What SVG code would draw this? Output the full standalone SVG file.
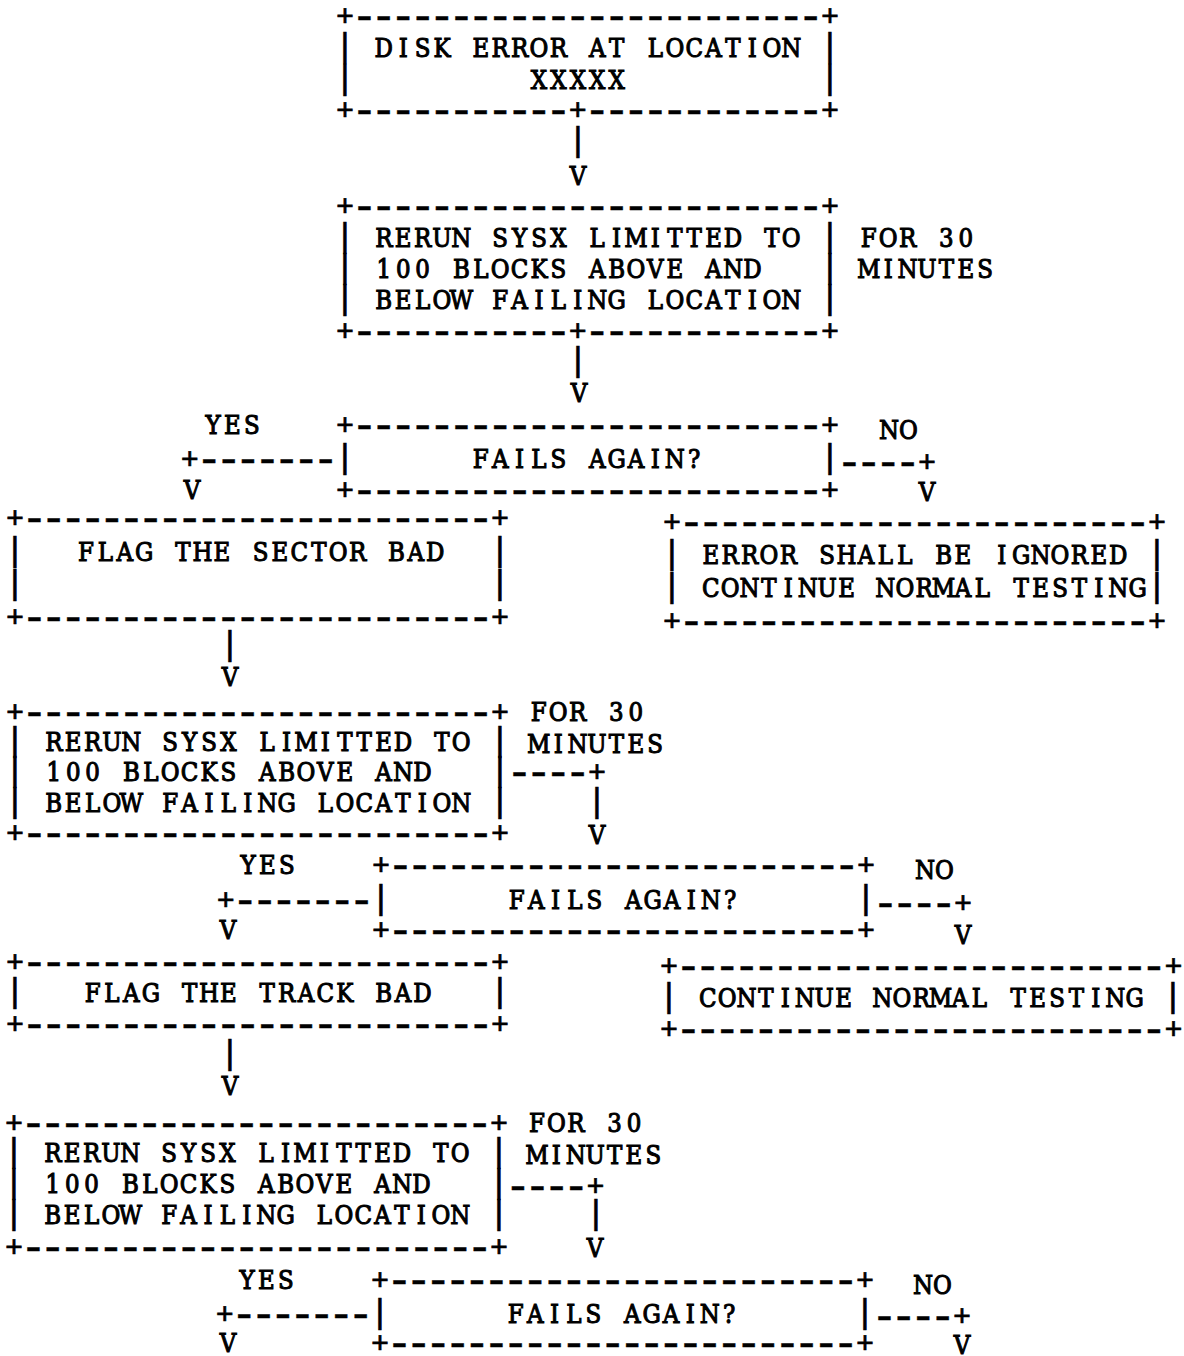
<svg xmlns="http://www.w3.org/2000/svg" width="1184" height="1356" viewBox="0 0 1184 1356" xml:space="preserve">
<style>
text { fill: #000; stroke: #000; white-space: pre; }
.b { font-family: "Liberation Mono", "DejaVu Sans Mono", monospace; font-size: 30px; text-anchor: middle; stroke-width: 0.7px; }
.d { font-size: 44px; stroke-width: 0.4px; }
.p { font-family: "DejaVu Sans Mono", "Liberation Mono", monospace; font-size: 32px; text-anchor: middle; stroke-width: 0.7px; }
.w { font-family: "DejaVu Serif", "Liberation Serif", serif; font-size: 25.5px; text-anchor: middle; stroke-width: 1.1px; }
</style>
<rect width="1184" height="1356" fill="#fff"/>
<g id="n1">
<text class="b" transform="translate(345 26)" x="0 19.4 38.8 58.2 77.6 97 116.4 135.8 155.2 174.6 194 213.4 232.8 252.2 271.6 291 310.4 329.8 349.2 368.6 388 407.4 426.8 446.2 465.6 485 504.4">+<tspan class="d" dy="4">------------------------</tspan><tspan dy="-4">+</tspan></text>
<text class="p" x="345" y="56.4">|</text><text class="p" x="830" y="56.4">|</text>
<text class="p" x="345" y="88.4">|</text><text class="p" x="830" y="88.4">|</text>
<text class="w" transform="translate(383.8 57.2) scale(0.9 1)" x="0 21.556 43.111 64.667 86.222 107.778 129.333 150.889 172.444 194 215.556 237.111 258.667 280.222 301.778 323.333 344.889 366.444 388 409.556 431.111 452.667 474.222 495.778">DISK ERROR AT LOCATION</text>
<text class="w" transform="translate(539 89.2) scale(0.9 1)" x="0 21.556 43.111 64.667 86.222">XXXXX</text>
<text class="b" transform="translate(345 120)" x="0 19.4 38.8 58.2 77.6 97 116.4 135.8 155.2 174.6 194 213.4 232.8 252.2 271.6 291 310.4 329.8 349.2 368.6 388 407.4 426.8 446.2 465.6 485 504.4">+<tspan class="d" dy="4">-----------</tspan><tspan dy="-4">+</tspan><tspan class="d" dy="4">------------</tspan><tspan dy="-4">+</tspan></text>
</g>
<g id="n2">
<text class="b" transform="translate(345 216)" x="0 19.4 38.8 58.2 77.6 97 116.4 135.8 155.2 174.6 194 213.4 232.8 252.2 271.6 291 310.4 329.8 349.2 368.6 388 407.4 426.8 446.2 465.6 485 504.4">+<tspan class="d" dy="4">------------------------</tspan><tspan dy="-4">+</tspan></text>
<text class="p" x="345" y="246.4">|</text><text class="p" x="830" y="246.4">|</text>
<text class="p" x="345" y="277.4">|</text><text class="p" x="830" y="277.4">|</text>
<text class="p" x="345" y="308.4">|</text><text class="p" x="830" y="308.4">|</text>
<text class="w" transform="translate(383.8 247.2) scale(0.9 1)" x="0 21.556 43.111 64.667 86.222 107.778 129.333 150.889 172.444 194 215.556 237.111 258.667 280.222 301.778 323.333 344.889 366.444 388 409.556 431.111 452.667 474.222 495.778">RERUN SYSX LIMITTED TO</text>
<text class="w" transform="translate(383.8 278.2) scale(0.9 1)" x="0 21.556 43.111 64.667 86.222 107.778 129.333 150.889 172.444 194 215.556 237.111 258.667 280.222 301.778 323.333 344.889 366.444 388 409.556 431.111 452.667 474.222 495.778">100 BLOCKS ABOVE AND</text>
<text class="w" transform="translate(383.8 309.2) scale(0.9 1)" x="0 21.556 43.111 64.667 86.222 107.778 129.333 150.889 172.444 194 215.556 237.111 258.667 280.222 301.778 323.333 344.889 366.444 388 409.556 431.111 452.667 474.222 495.778">BELOW FAILING LOCATION</text>
<text class="b" transform="translate(345 341)" x="0 19.4 38.8 58.2 77.6 97 116.4 135.8 155.2 174.6 194 213.4 232.8 252.2 271.6 291 310.4 329.8 349.2 368.6 388 407.4 426.8 446.2 465.6 485 504.4">+<tspan class="d" dy="4">-----------</tspan><tspan dy="-4">+</tspan><tspan class="d" dy="4">------------</tspan><tspan dy="-4">+</tspan></text>
<text class="w" transform="translate(868.8 247.2) scale(0.9 1)" x="0 21.556 43.111 64.667 86.222 107.778 129.333">FOR 30</text>
<text class="w" transform="translate(868.8 278.2) scale(0.9 1)" x="0 21.556 43.111 64.667 86.222 107.778 129.333">MINUTES</text>
</g>
<g id="n3">
<text class="b" transform="translate(345 435)" x="0 19.4 38.8 58.2 77.6 97 116.4 135.8 155.2 174.6 194 213.4 232.8 252.2 271.6 291 310.4 329.8 349.2 368.6 388 407.4 426.8 446.2 465.6 485 504.4">+<tspan class="d" dy="4">------------------------</tspan><tspan dy="-4">+</tspan></text>
<text class="p" x="345" y="467.4">|</text><text class="p" x="830" y="467.4">|</text>
<text class="w" transform="translate(480.8 468.2) scale(0.9 1)" x="0 21.556 43.111 64.667 86.222 107.778 129.333 150.889 172.444 194 215.556 237.111">FAILS AGAIN?</text>
<text class="b" transform="translate(345 500)" x="0 19.4 38.8 58.2 77.6 97 116.4 135.8 155.2 174.6 194 213.4 232.8 252.2 271.6 291 310.4 329.8 349.2 368.6 388 407.4 426.8 446.2 465.6 485 504.4">+<tspan class="d" dy="4">------------------------</tspan><tspan dy="-4">+</tspan></text>
</g>
<g id="n4">
<text class="b" transform="translate(15 528)" x="0 19.4 38.8 58.2 77.6 97 116.4 135.8 155.2 174.6 194 213.4 232.8 252.2 271.6 291 310.4 329.8 349.2 368.6 388 407.4 426.8 446.2 465.6 485 504.4">+<tspan class="d" dy="4">------------------------</tspan><tspan dy="-4">+</tspan></text>
<text class="p" x="15" y="560.4">|</text><text class="p" x="500" y="560.4">|</text>
<text class="p" x="15" y="593.4">|</text><text class="p" x="500" y="593.4">|</text>
<text class="w" transform="translate(86 561.2) scale(0.9 1)" x="0 21.556 43.111 64.667 86.222 107.778 129.333 150.889 172.444 194 215.556 237.111 258.667 280.222 301.778 323.333 344.889 366.444 388">FLAG THE SECTOR BAD</text>
<text class="b" transform="translate(15 627)" x="0 19.4 38.8 58.2 77.6 97 116.4 135.8 155.2 174.6 194 213.4 232.8 252.2 271.6 291 310.4 329.8 349.2 368.6 388 407.4 426.8 446.2 465.6 485 504.4">+<tspan class="d" dy="4">------------------------</tspan><tspan dy="-4">+</tspan></text>
</g>
<g id="n5">
<text class="b" transform="translate(672 532)" x="0 19.4 38.8 58.2 77.6 97 116.4 135.8 155.2 174.6 194 213.4 232.8 252.2 271.6 291 310.4 329.8 349.2 368.6 388 407.4 426.8 446.2 465.6 485 504.4">+<tspan class="d" dy="4">------------------------</tspan><tspan dy="-4">+</tspan></text>
<text class="p" x="672" y="563.4">|</text><text class="p" x="1157" y="563.4">|</text>
<text class="p" x="672" y="596.4">|</text><text class="p" x="1157" y="596.4">|</text>
<text class="w" transform="translate(710.8 564.2) scale(0.9 1)" x="0 21.556 43.111 64.667 86.222 107.778 129.333 150.889 172.444 194 215.556 237.111 258.667 280.222 301.778 323.333 344.889 366.444 388 409.556 431.111 452.667 474.222 495.778">ERROR SHALL BE IGNORED</text>
<text class="w" transform="translate(710.8 597.2) scale(0.9 1)" x="0 21.556 43.111 64.667 86.222 107.778 129.333 150.889 172.444 194 215.556 237.111 258.667 280.222 301.778 323.333 344.889 366.444 388 409.556 431.111 452.667 474.222 495.778">CONTINUE NORMAL TESTING</text>
<text class="b" transform="translate(672 631)" x="0 19.4 38.8 58.2 77.6 97 116.4 135.8 155.2 174.6 194 213.4 232.8 252.2 271.6 291 310.4 329.8 349.2 368.6 388 407.4 426.8 446.2 465.6 485 504.4">+<tspan class="d" dy="4">------------------------</tspan><tspan dy="-4">+</tspan></text>
</g>
<g id="n6">
<text class="b" transform="translate(15 722)" x="0 19.4 38.8 58.2 77.6 97 116.4 135.8 155.2 174.6 194 213.4 232.8 252.2 271.6 291 310.4 329.8 349.2 368.6 388 407.4 426.8 446.2 465.6 485 504.4">+<tspan class="d" dy="4">------------------------</tspan><tspan dy="-4">+</tspan></text>
<text class="p" x="15" y="750.4">|</text><text class="p" x="500" y="750.4">|</text>
<text class="p" x="15" y="780.4">|</text><text class="p" x="500" y="780.4">|</text>
<text class="p" x="15" y="811.4">|</text><text class="p" x="500" y="811.4">|</text>
<text class="w" transform="translate(53.8 751.2) scale(0.9 1)" x="0 21.556 43.111 64.667 86.222 107.778 129.333 150.889 172.444 194 215.556 237.111 258.667 280.222 301.778 323.333 344.889 366.444 388 409.556 431.111 452.667 474.222 495.778">RERUN SYSX LIMITTED TO</text>
<text class="w" transform="translate(53.8 781.2) scale(0.9 1)" x="0 21.556 43.111 64.667 86.222 107.778 129.333 150.889 172.444 194 215.556 237.111 258.667 280.222 301.778 323.333 344.889 366.444 388 409.556 431.111 452.667 474.222 495.778">100 BLOCKS ABOVE AND</text>
<text class="w" transform="translate(53.8 812.2) scale(0.9 1)" x="0 21.556 43.111 64.667 86.222 107.778 129.333 150.889 172.444 194 215.556 237.111 258.667 280.222 301.778 323.333 344.889 366.444 388 409.556 431.111 452.667 474.222 495.778">BELOW FAILING LOCATION</text>
<text class="b" transform="translate(15 843)" x="0 19.4 38.8 58.2 77.6 97 116.4 135.8 155.2 174.6 194 213.4 232.8 252.2 271.6 291 310.4 329.8 349.2 368.6 388 407.4 426.8 446.2 465.6 485 504.4">+<tspan class="d" dy="4">------------------------</tspan><tspan dy="-4">+</tspan></text>
<text class="w" transform="translate(538.8 721.2) scale(0.9 1)" x="0 21.556 43.111 64.667 86.222 107.778 129.333">FOR 30</text>
<text class="w" transform="translate(538.8 753.2) scale(0.9 1)" x="0 21.556 43.111 64.667 86.222 107.778 129.333">MINUTES</text>
</g>
<g id="n7">
<text class="b" transform="translate(381 875)" x="0 19.4 38.8 58.2 77.6 97 116.4 135.8 155.2 174.6 194 213.4 232.8 252.2 271.6 291 310.4 329.8 349.2 368.6 388 407.4 426.8 446.2 465.6 485 504.4">+<tspan class="d" dy="4">------------------------</tspan><tspan dy="-4">+</tspan></text>
<text class="p" x="381" y="908.4">|</text><text class="p" x="866" y="908.4">|</text>
<text class="w" transform="translate(516.8 909.2) scale(0.9 1)" x="0 21.556 43.111 64.667 86.222 107.778 129.333 150.889 172.444 194 215.556 237.111">FAILS AGAIN?</text>
<text class="b" transform="translate(381 940)" x="0 19.4 38.8 58.2 77.6 97 116.4 135.8 155.2 174.6 194 213.4 232.8 252.2 271.6 291 310.4 329.8 349.2 368.6 388 407.4 426.8 446.2 465.6 485 504.4">+<tspan class="d" dy="4">------------------------</tspan><tspan dy="-4">+</tspan></text>
</g>
<g id="n8">
<text class="b" transform="translate(15 972)" x="0 19.4 38.8 58.2 77.6 97 116.4 135.8 155.2 174.6 194 213.4 232.8 252.2 271.6 291 310.4 329.8 349.2 368.6 388 407.4 426.8 446.2 465.6 485 504.4">+<tspan class="d" dy="4">------------------------</tspan><tspan dy="-4">+</tspan></text>
<text class="p" x="15" y="1001.4">|</text><text class="p" x="500" y="1001.4">|</text>
<text class="w" transform="translate(92.6 1002.2) scale(0.9 1)" x="0 21.556 43.111 64.667 86.222 107.778 129.333 150.889 172.444 194 215.556 237.111 258.667 280.222 301.778 323.333 344.889 366.444">FLAG THE TRACK BAD</text>
<text class="b" transform="translate(15 1034)" x="0 19.4 38.8 58.2 77.6 97 116.4 135.8 155.2 174.6 194 213.4 232.8 252.2 271.6 291 310.4 329.8 349.2 368.6 388 407.4 426.8 446.2 465.6 485 504.4">+<tspan class="d" dy="4">------------------------</tspan><tspan dy="-4">+</tspan></text>
</g>
<g id="n9">
<text class="b" transform="translate(669 976)" x="0 19.4 38.8 58.2 77.6 97 116.4 135.8 155.2 174.6 194 213.4 232.8 252.2 271.6 291 310.4 329.8 349.2 368.6 388 407.4 426.8 446.2 465.6 485 504.4">+<tspan class="d" dy="4">-------------------------</tspan><tspan dy="-4">+</tspan></text>
<text class="p" x="669" y="1006.4">|</text><text class="p" x="1173" y="1006.4">|</text>
<text class="w" transform="translate(707.8 1007.2) scale(0.9 1)" x="0 21.556 43.111 64.667 86.222 107.778 129.333 150.889 172.444 194 215.556 237.111 258.667 280.222 301.778 323.333 344.889 366.444 388 409.556 431.111 452.667 474.222 495.778">CONTINUE NORMAL TESTING</text>
<text class="b" transform="translate(669 1039)" x="0 19.4 38.8 58.2 77.6 97 116.4 135.8 155.2 174.6 194 213.4 232.8 252.2 271.6 291 310.4 329.8 349.2 368.6 388 407.4 426.8 446.2 465.6 485 504.4">+<tspan class="d" dy="4">-------------------------</tspan><tspan dy="-4">+</tspan></text>
</g>
<g id="n10">
<text class="b" transform="translate(14 1133)" x="0 19.4 38.8 58.2 77.6 97 116.4 135.8 155.2 174.6 194 213.4 232.8 252.2 271.6 291 310.4 329.8 349.2 368.6 388 407.4 426.8 446.2 465.6 485 504.4">+<tspan class="d" dy="4">------------------------</tspan><tspan dy="-4">+</tspan></text>
<text class="p" x="14" y="1161.4">|</text><text class="p" x="499" y="1161.4">|</text>
<text class="p" x="14" y="1192.4">|</text><text class="p" x="499" y="1192.4">|</text>
<text class="p" x="14" y="1223.4">|</text><text class="p" x="499" y="1223.4">|</text>
<text class="w" transform="translate(52.8 1162.2) scale(0.9 1)" x="0 21.556 43.111 64.667 86.222 107.778 129.333 150.889 172.444 194 215.556 237.111 258.667 280.222 301.778 323.333 344.889 366.444 388 409.556 431.111 452.667 474.222 495.778">RERUN SYSX LIMITTED TO</text>
<text class="w" transform="translate(52.8 1193.2) scale(0.9 1)" x="0 21.556 43.111 64.667 86.222 107.778 129.333 150.889 172.444 194 215.556 237.111 258.667 280.222 301.778 323.333 344.889 366.444 388 409.556 431.111 452.667 474.222 495.778">100 BLOCKS ABOVE AND</text>
<text class="w" transform="translate(52.8 1224.2) scale(0.9 1)" x="0 21.556 43.111 64.667 86.222 107.778 129.333 150.889 172.444 194 215.556 237.111 258.667 280.222 301.778 323.333 344.889 366.444 388 409.556 431.111 452.667 474.222 495.778">BELOW FAILING LOCATION</text>
<text class="b" transform="translate(14 1257)" x="0 19.4 38.8 58.2 77.6 97 116.4 135.8 155.2 174.6 194 213.4 232.8 252.2 271.6 291 310.4 329.8 349.2 368.6 388 407.4 426.8 446.2 465.6 485 504.4">+<tspan class="d" dy="4">------------------------</tspan><tspan dy="-4">+</tspan></text>
<text class="w" transform="translate(537 1132.2) scale(0.9 1)" x="0 21.556 43.111 64.667 86.222 107.778 129.333">FOR 30</text>
<text class="w" transform="translate(537 1164.2) scale(0.9 1)" x="0 21.556 43.111 64.667 86.222 107.778 129.333">MINUTES</text>
</g>
<g id="n11">
<text class="b" transform="translate(380 1290)" x="0 19.4 38.8 58.2 77.6 97 116.4 135.8 155.2 174.6 194 213.4 232.8 252.2 271.6 291 310.4 329.8 349.2 368.6 388 407.4 426.8 446.2 465.6 485 504.4">+<tspan class="d" dy="4">------------------------</tspan><tspan dy="-4">+</tspan></text>
<text class="p" x="380" y="1322.4">|</text><text class="p" x="865" y="1322.4">|</text>
<text class="w" transform="translate(515.8 1323.2) scale(0.9 1)" x="0 21.556 43.111 64.667 86.222 107.778 129.333 150.889 172.444 194 215.556 237.111">FAILS AGAIN?</text>
<text class="b" transform="translate(380 1353)" x="0 19.4 38.8 58.2 77.6 97 116.4 135.8 155.2 174.6 194 213.4 232.8 252.2 271.6 291 310.4 329.8 349.2 368.6 388 407.4 426.8 446.2 465.6 485 504.4">+<tspan class="d" dy="4">------------------------</tspan><tspan dy="-4">+</tspan></text>
</g>
<g id="connectors">
<text class="p" x="578" y="150.4">|</text>
<text class="w" transform="translate(578 185.2) scale(0.9 1)">V</text>
<text class="p" x="578" y="370.4">|</text>
<text class="w" transform="translate(579 402.2) scale(0.9 1)">V</text>
<text class="w" transform="translate(213 434.2) scale(0.9 1)" x="0 21.556 43.111">YES</text>
<text class="w" transform="translate(889 439.2) scale(0.9 1)" x="0 21.556">NO</text>
<text class="b" transform="translate(189.8 469)" x="0 19.4 38.8 58.2 77.6 97 116.4 135.8">+<tspan class="d" dy="4">-------</tspan></text>
<text class="b" transform="translate(849.4 472)" x="0 19.4 38.8 58.2 77.6"><tspan class="d" dy="4">----</tspan><tspan dy="-4">+</tspan></text>
<text class="w" transform="translate(192 499.2) scale(0.9 1)">V</text>
<text class="w" transform="translate(927 501.2) scale(0.9 1)">V</text>
<text class="p" x="230" y="654.4">|</text>
<text class="w" transform="translate(230 686.2) scale(0.9 1)">V</text>
<text class="b" transform="translate(519.4 782)" x="0 19.4 38.8 58.2 77.6"><tspan class="d" dy="4">----</tspan><tspan dy="-4">+</tspan></text>
<text class="p" x="597" y="811.4">|</text>
<text class="w" transform="translate(597 844.2) scale(0.9 1)">V</text>
<text class="w" transform="translate(248 874.2) scale(0.9 1)" x="0 21.556 43.111">YES</text>
<text class="w" transform="translate(925 879.2) scale(0.9 1)" x="0 21.556">NO</text>
<text class="b" transform="translate(225.8 910)" x="0 19.4 38.8 58.2 77.6 97 116.4 135.8">+<tspan class="d" dy="4">-------</tspan></text>
<text class="b" transform="translate(885.4 913)" x="0 19.4 38.8 58.2 77.6"><tspan class="d" dy="4">----</tspan><tspan dy="-4">+</tspan></text>
<text class="w" transform="translate(228 939.2) scale(0.9 1)">V</text>
<text class="w" transform="translate(963 944.2) scale(0.9 1)">V</text>
<text class="p" x="230" y="1063.4">|</text>
<text class="w" transform="translate(230 1095.2) scale(0.9 1)">V</text>
<text class="b" transform="translate(518 1196)" x="0 19.4 38.8 58.2 77.6"><tspan class="d" dy="4">----</tspan><tspan dy="-4">+</tspan></text>
<text class="p" x="596" y="1223.4">|</text>
<text class="w" transform="translate(595 1257.2) scale(0.9 1)">V</text>
<text class="w" transform="translate(247 1289.2) scale(0.9 1)" x="0 21.556 43.111">YES</text>
<text class="w" transform="translate(923 1294.2) scale(0.9 1)" x="0 21.556">NO</text>
<text class="b" transform="translate(224.8 1324)" x="0 19.4 38.8 58.2 77.6 97 116.4 135.8">+<tspan class="d" dy="4">-------</tspan></text>
<text class="b" transform="translate(884.4 1326)" x="0 19.4 38.8 58.2 77.6"><tspan class="d" dy="4">----</tspan><tspan dy="-4">+</tspan></text>
<text class="w" transform="translate(228 1352.2) scale(0.9 1)">V</text>
<text class="w" transform="translate(962 1354.2) scale(0.9 1)">V</text>
</g>
</svg>
